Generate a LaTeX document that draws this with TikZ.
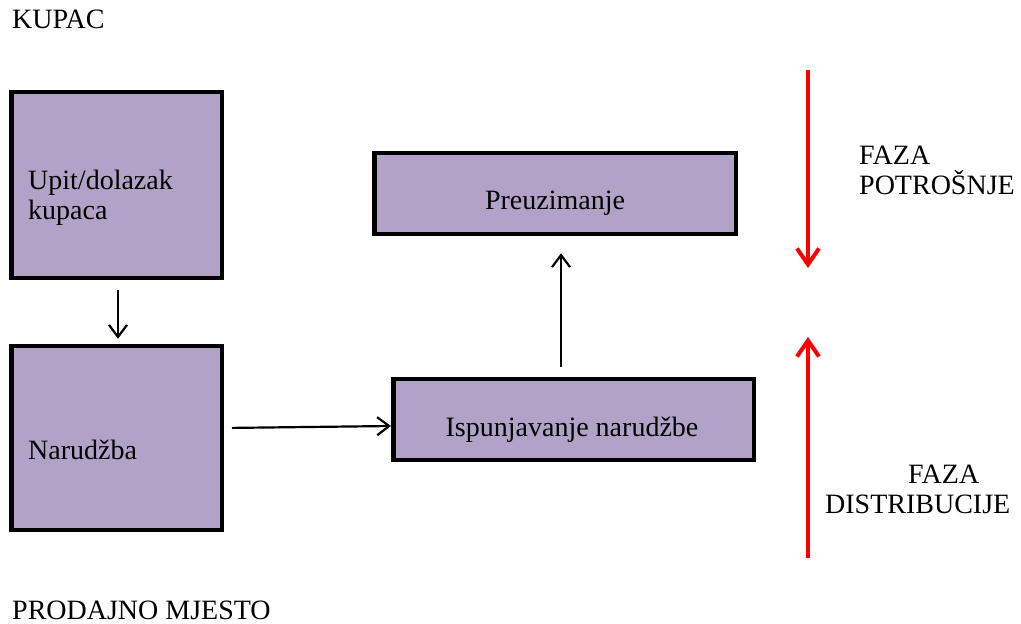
\documentclass[tikz,border=0pt]{standalone}
\usepackage{fontspec}
\setmainfont{Liberation Serif}
\usetikzlibrary{arrows.meta}
\definecolor{lavender}{HTML}{B3A2C7}
\begin{document}
\begin{tikzpicture}[x=1pt, y=-1pt, font=\fontsize{28}{30}\selectfont]
	\tikzstyle{box}   = [rectangle, draw=black, line width=4.5pt, fill=lavender, inner sep=0pt]
	\tikzstyle{txt}   = [inner sep=0pt, align=left]
	\tikzstyle{flow}  = [-{Straight Barb[length=12pt, width=18pt, line width=2.2pt]}, line width=2.2pt]
	\tikzstyle{phase} = [-{Straight Barb[length=16pt, width=22pt, line width=4pt]}, line width=4pt, red]

	\useasboundingbox (0,0) rectangle (1021,624);

	\foreach \name/\x/\y/\w/\h in {upit/116.5/185/210.5/186, narudzba/116.5/438/210.5/184, preuz/555/193.5/361.5/81, ispun/573.5/419.5/360.5/81}
		\node[box, minimum width=\w pt, minimum height=\h pt] (\name) at (\x, \y) {};

	\node[txt, anchor=west] (kupac) at (12, 19) {KUPAC};
	\node[txt, anchor=west] (mjesto) at (12, 610) {PRODAJNO MJESTO};
	\node[txt, anchor=west] (upittxt) at (28, 198) {Upit/dolazak\\kupaca};
	\node[txt, anchor=west] (narudzbatxt) at (28, 450) {Narudžba};
	\node[txt] (preuztxt) at (555, 203) {Preuzimanje};
	\node[txt] (ispuntxt) at (572, 430) {Ispunjavanje narudžbe};
	\node[txt, anchor=west] (potrosnja) at (859, 170) {FAZA\\POTROŠNJE};
	\node[txt, anchor=west] (distribucija) at (825, 489) {\hspace*{83pt}FAZA\\DISTRIBUCIJE};

	\coordinate (potTop) at (808, 70);
	\coordinate (potBot) at (808, 268);
	\coordinate (disBot) at (808, 558);
	\coordinate (disTop) at (808, 337);

	\draw[flow, shorten <=10pt, shorten >=5pt] ([xshift=1.5pt]upit.south) -- ([xshift=1.5pt]narudzba.north);
	\draw[flow, shorten <=8pt] ([yshift=10pt]narudzba.east) -- ([yshift=-6.5pt]ispun.west);
	\draw[flow, shorten <=10pt, shorten >=17pt] ([xshift=-12.5pt]ispun.north) -- ([xshift=6pt]preuz.south);

	\foreach \from/\to in {potTop/potBot, disBot/disTop}
		\draw[phase] (\from) -- (\to);
\end{tikzpicture}
\end{document}
